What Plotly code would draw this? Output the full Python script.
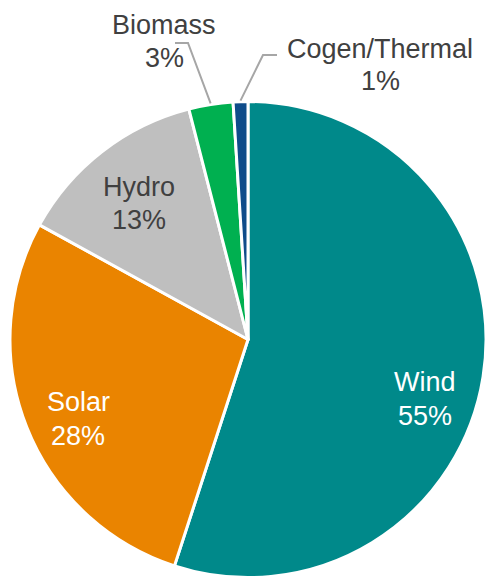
import math
import plotly.graph_objects as go

sources = ["Wind", "Solar", "Hydro", "Biomass", "Cogen/Thermal"]
shares = [55, 28, 13, 3, 1]
colors = ["#00898A", "#EA8400", "#BFBFBF", "#00B050", "#0F4C8A"]
text_colors = ["white", "white", "#404040", "#404040", "#404040"]
# label line centres in pixels: (x, y of name, y of percent)
label_xy = [(425, 382, 416), (78, 402, 436), (139, 187, 220), (164, 25, 58), (380, 49, 81)]
# elbow of the leader line for the outside labels (None = inside label)
leader_from = [None, None, None, [(175, 43), (188, 43)], [(277, 55), (263, 55)]]

W, H = 486, 579
ML, MR, MT, MB = 10, 0, 100, 0
pw, ph = W - ML - MR, H - MT - MB
R = min(pw, ph) / 2
cx, cy = ML + pw / 2, MT + ph / 2


def px(x):
    return (x - ML) / pw


def py(y):
    return (H - MB - y) / ph


fig = go.Figure(data=[go.Pie(
    labels=sources,
    values=shares,
    sort=False,
    direction="clockwise",
    rotation=0,
    marker=dict(colors=colors, line=dict(color="white", width=3)),
    textinfo="none",
    showlegend=False,
    hoverinfo="label+percent",
)])

font = "Liberation Sans, Arial, sans-serif"
total = sum(shares)
cum = 0
for name, v, col, (lx, ly1, ly2), lead in zip(sources, shares, text_colors, label_xy, leader_from):
    mid = (cum + v / 2) / total * 2 * math.pi
    cum += v
    for txt, ly in [(name, ly1), (f"{round(100 * v / total)}%", ly2)]:
        fig.add_annotation(
            x=px(lx), y=py(ly), xref="paper", yref="paper",
            text=txt, showarrow=False, xanchor="center", yanchor="middle",
            font=dict(family=font, size=27, color=col),
        )
    if lead:
        ex = cx + (R + 1) * math.sin(mid)
        ey = cy - (R + 1) * math.cos(mid)
        pts = lead + [(ex, ey)]
        path = "M " + " L ".join(f"{px(a)},{py(b)}" for a, b in pts)
        fig.add_shape(type="path", path=path, xref="paper", yref="paper",
                      line=dict(color="#A6A6A6", width=2))

fig.update_layout(
    width=W,
    height=H,
    margin=dict(l=ML, r=MR, t=MT, b=MB),
    paper_bgcolor="white",
    plot_bgcolor="white",
)
# drop the browser's default body margin so the figure fills the window
fig.write_html("out.html", config={"displayModeBar": False},
               post_script="document.body.style.margin='0';document.body.style.overflow='hidden';")
